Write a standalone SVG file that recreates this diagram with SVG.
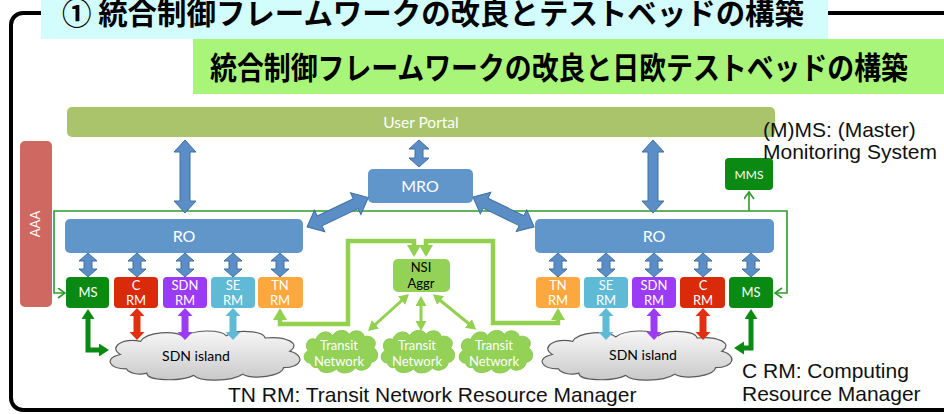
<svg xmlns="http://www.w3.org/2000/svg" xmlns:xlink="http://www.w3.org/1999/xlink" width="944" height="414" viewBox="0 0 944 414">
<style>
.lbl{font-family:Lato,"Open Sans",sans-serif;fill:#fff;text-anchor:middle}
.blk{fill:#000}
.note{font-family:"Liberation Sans",Arial,sans-serif;font-size:21px;fill:#111}
.jp{font-family:"Noto Sans CJK JP","Noto Sans CJK SC",sans-serif;font-weight:bold;fill:#000}
.blue{fill:#6196CA}
.barrow{fill:#5B8EC6;stroke:#41719C;stroke-width:1}
.ms{fill:#0A8A12}
.cloudg{fill:url(#grey);stroke:#5a5a5a;stroke-width:1.2}
.cloudt{fill:#93D157;stroke:#8CCB52;stroke-width:1}
</style>
<defs>
<linearGradient id="grey" x1="0" y1="0" x2="0" y2="1">
<stop offset="0" stop-color="#f7f7f7"/>
<stop offset="1" stop-color="#c9c9c9"/>
</linearGradient>
<path id="cloud" vector-effect="non-scaling-stroke" d="M12,38 C3,38 1,28 9,25 C3,18 10,10 19,13 C22,4 36,3 40,9 C45,2 58,2 61,8 C65,2 79,3 80,10 C90,8 98,15 92,22 C100,26 98,37 89,37 C88,45 74,48 69,43 C63,50 48,50 45,44 C38,50 22,49 22,42 C18,44 13,42 12,38 Z"/>
<polygon id="sa" class="barrow" points="0,0 9,8 4,8 4,16 9,16 0,24 -9,16 -4,16 -4,8 -9,8"/>
<polygon id="ca" points="0,0 7.5,8 3.5,8 3.5,24 7.5,24 0,32 -7.5,24 -3.5,24 -3.5,8 -7.5,8"/>
<marker id="chev" markerUnits="userSpaceOnUse" markerWidth="12" markerHeight="12" refX="8" refY="5" orient="auto-start-reverse" viewBox="0 0 12 12">
<path d="M1,0 L8,5 L1,10" fill="none" stroke="#2E9A2E" stroke-width="1.6"/>
</marker>
<marker id="dg" markerUnits="userSpaceOnUse" markerWidth="12" markerHeight="14" refX="1" refY="6.5" orient="auto-start-reverse" viewBox="0 0 12 14">
<path d="M0,0 L10,6.5 L0,13 Z" fill="#0A8A12"/>
</marker>
<marker id="lg" markerUnits="userSpaceOnUse" markerWidth="13" markerHeight="14" refX="1" refY="7" orient="auto-start-reverse" viewBox="0 0 13 14">
<path d="M0,0 L12,7 L0,14 Z" fill="#92D050"/>
</marker>
<marker id="lg2" markerUnits="userSpaceOnUse" markerWidth="12" markerHeight="12" refX="1" refY="5.5" orient="auto-start-reverse" viewBox="0 0 12 12">
<path d="M0,0 L10,5.5 L0,11 Z" fill="#92D050"/>
</marker>
</defs>

<rect x="0" y="0" width="944" height="414" fill="#fff"/>

<!-- frame and titles -->
<g id="frame">
<rect x="11" y="13" width="960" height="397" rx="12" fill="none" stroke="#000" stroke-width="4"/>
<rect x="41" y="0" width="787" height="39" fill="#D3FDFD"/>
<text class="jp" x="62" y="24" font-size="30" textLength="742" lengthAdjust="spacingAndGlyphs">① 統合制御フレームワークの改良とテストベッドの構築</text>
<rect x="193" y="39" width="751" height="55" fill="#A9F57A"/>
<text class="jp" x="210" y="79" font-size="31" textLength="698" lengthAdjust="spacingAndGlyphs">統合制御フレームワークの改良と日欧テストベッドの構築</text>
</g>

<!-- nodes -->
<g id="user-portal"><rect x="67" y="107" width="708" height="30" rx="5" fill="#A9C46B"/><text class="lbl" x="421" y="128" font-size="15.5">User Portal</text></g>
<g id="aaa"><rect x="20" y="141" width="32" height="166" rx="5" fill="#CE6860"/><text class="lbl" font-size="13" transform="translate(40,224) rotate(-90)">AAA</text></g>
<g id="mro"><rect class="blue" x="368" y="169" width="105" height="34" rx="5"/><text class="lbl" x="420" y="192" font-size="16">MRO</text></g>
<g id="ro-left"><rect class="blue" x="65" y="219" width="238" height="34" rx="5"/><text class="lbl" x="184" y="242" font-size="16">RO</text></g>
<g id="ro-right"><rect class="blue" x="535" y="219" width="239" height="34" rx="5"/><text class="lbl" x="654" y="242" font-size="16">RO</text></g>
<g id="mms"><rect class="ms" x="725" y="158" width="48" height="32" rx="4"/><text class="lbl" x="749" y="179" font-size="12">MMS</text></g>

<g id="ms-left"><rect class="ms" x="66" y="277" width="43" height="31" rx="4"/><text class="lbl" x="88" y="297" font-size="13">MS</text></g>
<g id="crm-left"><rect x="114" y="277" width="44" height="31" rx="4" fill="#D92A0A"/><text class="lbl" x="136" y="290" font-size="13">C</text><text class="lbl" x="136" y="305" font-size="13">RM</text></g>
<g id="sdnrm-left"><rect x="163" y="277" width="44" height="31" rx="4" fill="#9B3BF5"/><text class="lbl" x="185" y="290" font-size="13">SDN</text><text class="lbl" x="185" y="305" font-size="13">RM</text></g>
<g id="serm-left"><rect x="211" y="277" width="44" height="31" rx="4" fill="#5EBAD5"/><text class="lbl" x="233" y="290" font-size="13">SE</text><text class="lbl" x="233" y="305" font-size="13">RM</text></g>
<g id="tnrm-left"><rect x="258" y="277" width="45" height="31" rx="4" fill="#FDA83F"/><text class="lbl" x="280" y="290" font-size="13">TN</text><text class="lbl" x="280" y="305" font-size="13">RM</text></g>

<g id="tnrm-right"><rect x="536" y="277" width="44" height="31" rx="4" fill="#FDA83F"/><text class="lbl" x="558" y="290" font-size="13">TN</text><text class="lbl" x="558" y="305" font-size="13">RM</text></g>
<g id="serm-right"><rect x="584" y="277" width="44" height="31" rx="4" fill="#5EBAD5"/><text class="lbl" x="606" y="290" font-size="13">SE</text><text class="lbl" x="606" y="305" font-size="13">RM</text></g>
<g id="sdnrm-right"><rect x="632" y="277" width="44" height="31" rx="4" fill="#9B3BF5"/><text class="lbl" x="654" y="290" font-size="13">SDN</text><text class="lbl" x="654" y="305" font-size="13">RM</text></g>
<g id="crm-right"><rect x="680" y="277" width="45" height="31" rx="4" fill="#D92A0A"/><text class="lbl" x="703" y="290" font-size="13">C</text><text class="lbl" x="703" y="305" font-size="13">RM</text></g>
<g id="ms-right"><rect class="ms" x="729" y="277" width="44" height="31" rx="4"/><text class="lbl" x="751" y="297" font-size="13">MS</text></g>

<g id="nsi-aggr"><rect x="393" y="259" width="57" height="33" rx="5" fill="#93D157"/><text class="lbl blk" x="421" y="272" font-size="13">NSI</text><text class="lbl blk" x="421" y="288" font-size="13">Aggr</text></g>

<g id="sdn-island-left"><use href="#cloud" class="cloudg" transform="translate(102,327) scale(2.04,1.1)"/><text class="lbl blk" x="196" y="361" font-size="14">SDN island</text></g>
<g id="sdn-island-right"><use href="#cloud" class="cloudg" transform="translate(534,327) scale(2.04,1.1)"/><text class="lbl blk" x="643" y="360" font-size="14">SDN island</text></g>
<g id="transit-1"><use href="#cloud" class="cloudt" transform="translate(301,327) scale(0.79,0.95)"/><text class="lbl" x="339" y="350" font-size="13">Transit</text><text class="lbl" x="339" y="366" font-size="13">Network</text></g>
<g id="transit-2"><use href="#cloud" class="cloudt" transform="translate(378,327) scale(0.79,0.95)"/><text class="lbl" x="417" y="350" font-size="13">Transit</text><text class="lbl" x="417" y="366" font-size="13">Network</text></g>
<g id="transit-3"><use href="#cloud" class="cloudt" transform="translate(456,327) scale(0.79,0.95)"/><text class="lbl" x="494" y="350" font-size="13">Transit</text><text class="lbl" x="494" y="366" font-size="13">Network</text></g>

<!-- connectors -->
<g id="connectors">
<path d="M65,293 H54 V211 H787 V293 H775" fill="none" stroke="#2E9A2E" stroke-width="1.6" marker-start="url(#chev)" marker-end="url(#chev)"/>
<path d="M749,211 V192" fill="none" stroke="#2E9A2E" stroke-width="1.6" marker-end="url(#chev)"/>

<polygon class="barrow" points="185,140 196,152 190,152 190,201 196,201 185,213 174,201 180,201 180,152 174,152"/>
<polygon class="barrow" points="653,140 664,152 658,152 658,201 664,201 653,213 642,201 648,201 648,152 642,152"/>
<polygon class="barrow" points="419,140 429,149 423,149 423,158 429,158 419,167 409,158 415,158 415,149 409,149"/>
<polygon class="barrow" transform="translate(307,227) rotate(-25.6)" points="0,0 14,-12 14,-5.5 54,-5.5 54,-12 68,0 54,12 54,5.5 14,5.5 14,12"/>
<polygon class="barrow" transform="translate(473,197) rotate(26)" points="0,0 14,-12 14,-5.5 54,-5.5 54,-12 68,0 54,12 54,5.5 14,5.5 14,12"/>

<use href="#sa" x="88" y="253"/><use href="#sa" x="137" y="253"/><use href="#sa" x="185" y="253"/><use href="#sa" x="233" y="253"/><use href="#sa" x="280" y="253"/>
<use href="#sa" x="558" y="253"/><use href="#sa" x="606" y="253"/><use href="#sa" x="654" y="253"/><use href="#sa" x="703" y="253"/><use href="#sa" x="751" y="253"/>

<use href="#ca" x="137" y="308" fill="#E0300F"/>
<use href="#ca" x="185" y="308" fill="#9B3BF5"/>
<use href="#ca" x="233" y="308" fill="#5EBAD5"/>
<use href="#ca" x="606" y="308" fill="#5EBAD5"/>
<use href="#ca" x="654" y="308" fill="#9B3BF5"/>
<use href="#ca" x="703" y="308" fill="#E0300F"/>

<path d="M88,318 V350 H100" fill="none" stroke="#0A8A12" stroke-width="5" marker-start="url(#dg)" marker-end="url(#dg)"/>
<path d="M751,318 V348 H743" fill="none" stroke="#0A8A12" stroke-width="5" marker-start="url(#dg)" marker-end="url(#dg)"/>

<path d="M280,319 V324 H348 V241 H414 V246" fill="none" stroke="#92D050" stroke-width="4.5" marker-start="url(#lg)" marker-end="url(#lg)"/>
<path d="M558,319 V323 H493 V241 H426 V246" fill="none" stroke="#92D050" stroke-width="4.5" marker-start="url(#lg)" marker-end="url(#lg)"/>

<path d="M402.3,300 L374.7,325" fill="none" stroke="#92D050" stroke-width="3" marker-start="url(#lg2)" marker-end="url(#lg2)"/>
<path d="M421,305 V322" fill="none" stroke="#92D050" stroke-width="3" marker-start="url(#lg2)" marker-end="url(#lg2)"/>
<path d="M439.8,300 L469.2,324" fill="none" stroke="#92D050" stroke-width="3" marker-start="url(#lg2)" marker-end="url(#lg2)"/>
</g>

<!-- annotations -->
<g id="notes">
<text class="note" x="763" y="137">(M)MS: (Master)</text>
<text class="note" x="763" y="159">Monitoring System</text>
<text class="note" x="228" y="402">TN RM: Transit Network Resource Manager</text>
<text class="note" x="742" y="378">C RM: Computing</text>
<text class="note" x="742" y="401">Resource Manager</text>
</g>
</svg>
